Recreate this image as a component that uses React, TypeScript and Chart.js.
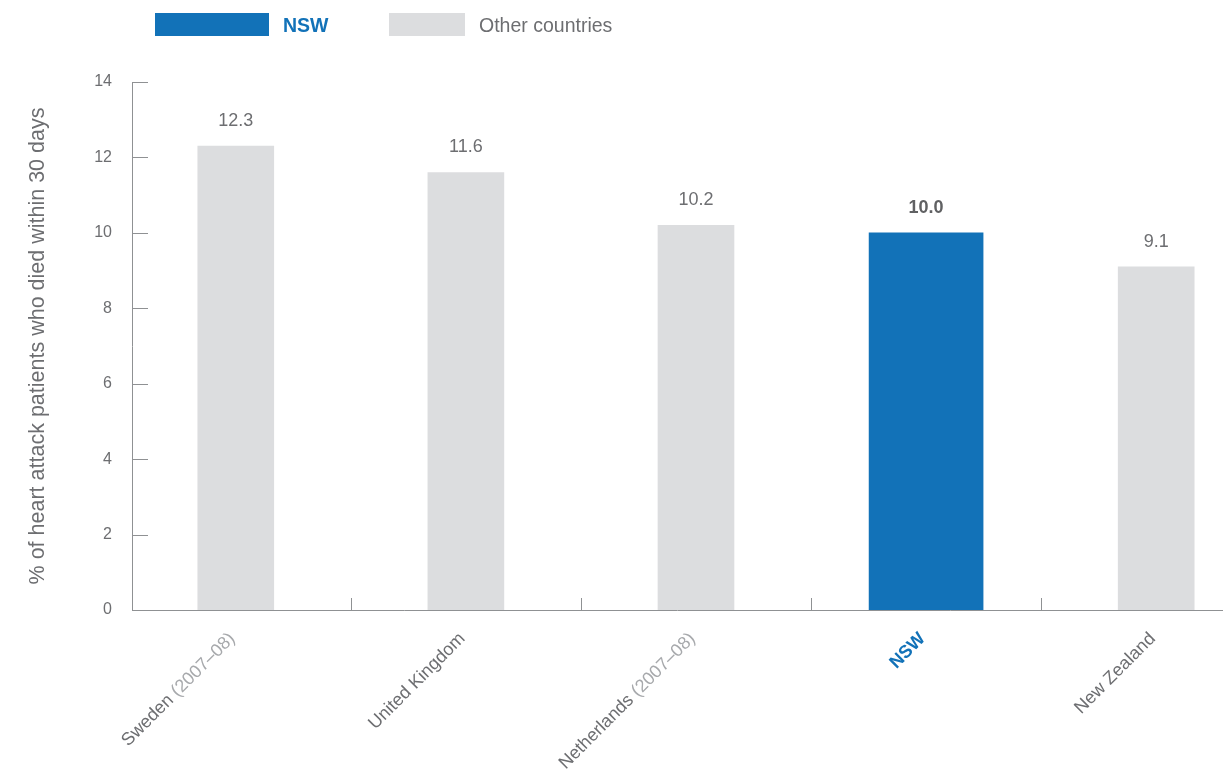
import React, { useEffect, useRef } from "react";
import { Chart, registerables } from "chart.js";

Chart.register(...registerables);

// ---- data ----
const categories = ["Sweden", "United Kingdom", "Netherlands", "NSW", "New Zealand"];
const categoryNotes = ["(2007–08)", "", "(2007–08)", "", ""];
const values = [12.3, 11.6, 10.2, 10.0, 9.1];
const highlightCategory = "NSW";
const seriesNames = ["NSW", "Other countries"];
const yMin = 0;
const yMax = 14;
const yStep = 2;
const yTitle = "% of heart attack patients who died within 30 days";

// ---- styles ----
const FONT = "'Liberation Sans', Arial, Helvetica, sans-serif";
const TEXT = "#6d6e71";
const LIGHT = "#a7a9ac";
const BLUE = "#1272b8";
const GREY_BAR = "#dcdddf";
const AXIS = "#8f9193";

const decorPlugin = {
  id: "decor",
  afterDraw(chart: any) {
    const { ctx, chartArea } = chart;
    const x = chart.scales.x;
    const y = chart.scales.y;
    ctx.save();
    // inward tick marks
    ctx.strokeStyle = AXIS;
    ctx.lineWidth = 1;
    ctx.beginPath();
    for (let v = yMin + yStep; v <= yMax; v += yStep) {
      const py = Math.round(y.getPixelForValue(v)) + 0.5;
      ctx.moveTo(chartArea.left, py);
      ctx.lineTo(chartArea.left + 16, py);
    }
    for (let i = 0; i < categories.length - 1; i++) {
      const px = Math.round(x.getPixelForValue(i + 0.5)) + 0.5;
      ctx.moveTo(px, chartArea.bottom);
      ctx.lineTo(px, chartArea.bottom - 12);
    }
    ctx.stroke();

    // value labels
    chart.data.datasets.forEach((ds: any, di: number) => {
      const meta = chart.getDatasetMeta(di);
      meta.data.forEach((el: any, j: number) => {
        const raw = ds.data[j];
        const isHi = categories[raw.x] === highlightCategory;
        ctx.font = `${isHi ? "bold " : ""}18px ${FONT}`;
        ctx.fillStyle = isHi ? "#606163" : TEXT;
        ctx.textAlign = "center";
        ctx.textBaseline = "middle";
        ctx.fillText(raw.y.toFixed(1), el.x, el.y - 25);
      });
    });

    // category labels (rotated)
    categories.forEach((name, i) => {
      const px = x.getPixelForValue(i);
      const isHi = name === highlightCategory;
      ctx.save();
      ctx.translate(px - 3.5, chartArea.bottom + 26);
      ctx.rotate(-Math.PI / 4);
      ctx.textAlign = "right";
      ctx.textBaseline = "middle";
      let offset = 0;
      const note = categoryNotes[i];
      ctx.font = `${isHi ? "bold " : ""}18px ${FONT}`;
      if (note) {
        ctx.fillStyle = LIGHT;
        ctx.fillText(note, 0, 0);
        offset = ctx.measureText(note).width + ctx.measureText(" ").width;
      }
      ctx.fillStyle = isHi ? BLUE : TEXT;
      ctx.fillText(name, -offset, 0);
      ctx.restore();
    });
    ctx.restore();
  },
};

export default function App() {
  const canvasRef = useRef<HTMLCanvasElement | null>(null);

  useEffect(() => {
    const canvas = canvasRef.current;
    if (!canvas) return;
    const hiData: any[] = [];
    const otherData: any[] = [];
    categories.forEach((c, i) => {
      if (c === highlightCategory) hiData.push({ x: i, y: values[i] });
      else otherData.push({ x: i, y: values[i] });
    });
    const chart = new Chart(canvas, {
      type: "bar",
      data: {
        datasets: [
          {
            label: seriesNames[0],
            data: hiData,
            backgroundColor: BLUE,
            barThickness: 114,
            grouped: false,
          } as any,
          {
            label: seriesNames[1],
            data: otherData,
            backgroundColor: GREY_BAR,
            barThickness: 76,
            grouped: false,
          } as any,
        ],
      },
      options: {
        animation: false,
        responsive: false,
        layout: { padding: { top: 82, right: 1, left: 0, bottom: 0 } },
        plugins: {
          legend: { display: false },
          tooltip: { enabled: false },
        },
        scales: {
          x: {
            type: "linear",
            min: -0.451,
            max: 4.286,
            offset: false,
            grid: { display: false, drawTicks: false },
            border: { display: true, color: AXIS, width: 1 },
            ticks: { display: false },
            afterFit: (s: any) => {
              s.height = 159;
            },
          },
          y: {
            min: yMin,
            max: yMax,
            grid: { display: false, drawTicks: false },
            border: { display: true, color: AXIS, width: 1 },
            ticks: {
              stepSize: yStep,
              padding: 20,
              color: TEXT,
              font: { family: FONT, size: 16 },
            },
            title: {
              display: true,
              text: yTitle,
              color: TEXT,
              font: { family: FONT, size: 21.5 },
              padding: { top: 25, bottom: 0 },
            },
            afterFit: (s: any) => {
              s.width = 132;
            },
          },
        },
      } as any,
      plugins: [decorPlugin],
    });
    return () => chart.destroy();
  }, []);

  const legendText: React.CSSProperties = {
    position: "absolute",
    top: 25,
    transform: "translateY(-50%)",
    fontFamily: FONT,
    fontSize: 19.5,
    lineHeight: "22px",
    whiteSpace: "nowrap",
  };

  return (
    <div style={{ position: "fixed", left: 0, top: 0, width: 1223, height: 769, background: "#fff" }}>
      <canvas ref={canvasRef} width={1223} height={769} style={{ position: "absolute", left: 0, top: 0, width: 1223, height: 769 }} />
      <div style={{ position: "absolute", left: 155, top: 13, width: 114, height: 23, background: BLUE }} />
      <div style={{ ...legendText, left: 283, color: BLUE, fontWeight: "bold" }}>{seriesNames[0]}</div>
      <div style={{ position: "absolute", left: 389, top: 13, width: 76, height: 23, background: GREY_BAR }} />
      <div style={{ ...legendText, left: 479, color: TEXT }}>{seriesNames[1]}</div>
    </div>
  );
}
